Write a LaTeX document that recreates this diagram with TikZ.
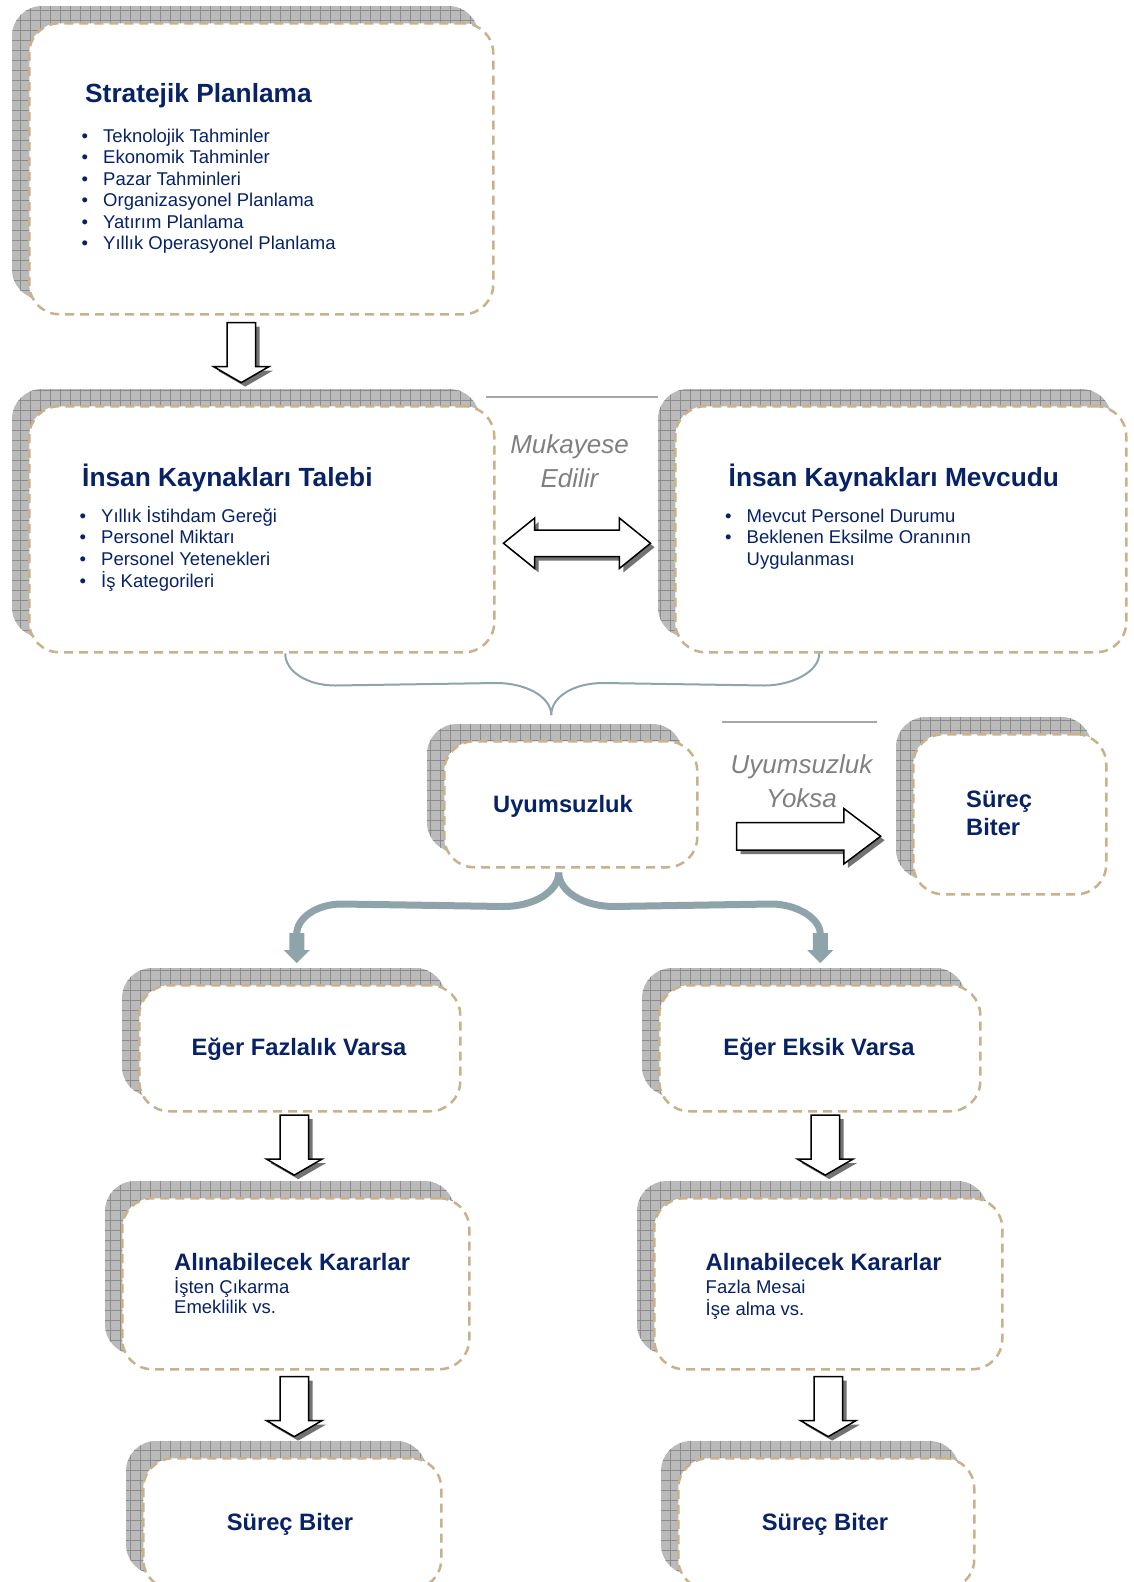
\documentclass[tikz,border=0pt]{standalone}
\usepackage{fontspec}
\setmainfont{Liberation Sans}
\usetikzlibrary{shapes.arrows,shadows,backgrounds}
\definecolor{lacivert}{RGB}{8,34,102}
\definecolor{kum}{RGB}{200,178,138}
\definecolor{grimsi}{RGB}{128,128,128}
\definecolor{mavigri}{RGB}{143,164,170}
\definecolor{golgegri}{RGB}{186,186,186}
\definecolor{izgaragri}{RGB}{140,140,140}
\newcommand{\madde}{\makebox[21.5pt][l]{\textbullet}}
\tikzset{
    kutu/.style = {draw=kum, fill=white, line width=2.5pt, dash pattern=on 9pt off 6pt, rounded corners=30pt, inner sep=0pt, anchor=north west},
    golge/.style = {fill=golgegri, rounded corners=30pt, path picture={\draw[izgaragri, line width=0.7pt] (path picture bounding box.south west) grid[step=10pt] (path picture bounding box.north east);}},
    baslik/.style = {text=lacivert, inner sep=0pt, anchor=base west, font=\fontsize{26.3}{30}\selectfont\bfseries},
    kucukbaslik/.style = {text=lacivert, inner sep=0pt, anchor=base, font=\fontsize{23.7}{28}\selectfont\bfseries},
    liste/.style = {text=lacivert, inner sep=0pt, anchor=base west, font=\fontsize{18.5}{21.5}\selectfont},
    aciklama/.style = {text=grimsi, inner sep=0pt, anchor=base, font=\fontsize{26}{34.5}\selectfont\itshape},
    ayrac/.style = {draw=black!35, line width=1.5pt},
    blok/.style = {draw=black, line width=1.5pt, fill=white, general shadow={fill=black!55, shadow xshift=4pt, shadow yshift=-4pt}},
    asagi/.style = {blok, single arrow, shape border rotate=270, inner sep=13.5pt, minimum height=60pt, single arrow head extend=13.5pt, single arrow tip angle=120},
    kume/.style = {draw=mavigri, line width=2pt},
    akis/.style = {draw=mavigri, line width=7pt},
}

\begin{document}
\begin{tikzpicture}[x=1pt, y=-1pt]
\useasboundingbox (0,0) rectangle (1134,1582);

% kutular
\node[kutu, minimum width=464pt, minimum height=291pt] (strat) at (28,22) {};
\node[baslik] (strat-b) at ([shift={(57,80)}]strat.north west) {Stratejik Planlama};
\node[liste] (strat-l) at ([shift={(53.5,120)}]strat.north west) {\begin{tabular}[t]{@{}l@{}}
    \madde Teknolojik Tahminler\\
    \madde Ekonomik Tahminler\\
    \madde Pazar Tahminleri\\
    \madde Organizasyonel Planlama\\
    \madde Yatırım Planlama\\
    \madde Yıllık Operasyonel Planlama
\end{tabular}};

\node[kutu, minimum width=465pt, minimum height=246pt] (talep) at (28,405) {};
\node[baslik] (talep-b) at ([shift={(54,81)}]talep.north west) {İnsan Kaynakları Talebi};
\node[liste] (talep-l) at ([shift={(51.5,117)}]talep.north west) {\begin{tabular}[t]{@{}l@{}}
    \madde Yıllık İstihdam Gereği\\
    \madde Personel Miktarı\\
    \madde Personel Yetenekleri\\
    \madde İş Kategorileri
\end{tabular}};

\node[kutu, minimum width=451pt, minimum height=246pt] (mevcut) at (674,405) {};
\node[baslik] (mevcut-b) at ([shift={(54.5,81)}]mevcut.north west) {İnsan Kaynakları Mevcudu};
\node[liste] (mevcut-l) at ([shift={(51,117)}]mevcut.north west) {\begin{tabular}[t]{@{}l@{}}
    \madde Mevcut Personel Durumu\\
    \madde Beklenen Eksilme Oranının\\
    \makebox[21.5pt]{}Uygulanması
\end{tabular}};

\node[kutu, minimum width=253pt, minimum height=126pt] (uyum) at (443,740) {};
\node[kucukbaslik] (uyum-b) at ([shift={(120,72)}]uyum.north west) {Uyumsuzluk};

\node[kutu, minimum width=193pt, minimum height=160pt] (bitis) at (912,733) {};
\node[kucukbaslik, anchor=base west] (bitis-b) at ([shift={(54,74)}]bitis.north west) {\begin{tabular}[t]{@{}l@{}}Süreç\\Biter\end{tabular}};

\node[kutu, minimum width=321pt, minimum height=126pt] (fazla) at (138,984) {};
\node[kucukbaslik] (fazla-b) at ([shift={(161,71)}]fazla.north west) {Eğer Fazlalık Varsa};

\node[kutu, minimum width=321pt, minimum height=126pt] (eksik) at (658,984) {};
\node[kucukbaslik] (eksik-b) at ([shift={(161,71)}]eksik.north west) {Eğer Eksik Varsa};

\node[kutu, minimum width=347pt, minimum height=171pt] (karar1) at (121,1197) {};
\node[kucukbaslik, anchor=base west] (karar1-b) at ([shift={(53,73)}]karar1.north west) {Alınabilecek Kararlar};
\node[liste, font=\fontsize{18.5}{20}\selectfont] (karar1-l) at ([shift={(53,96)}]karar1.north west) {\begin{tabular}[t]{@{}l@{}}İşten Çıkarma\\Emeklilik vs.\end{tabular}};

\node[kutu, minimum width=348pt, minimum height=171pt] (karar2) at (653,1197) {};
\node[kucukbaslik, anchor=base west] (karar2-b) at ([shift={(52.5,73)}]karar2.north west) {Alınabilecek Kararlar};
\node[liste, font=\fontsize{18.5}{20}\selectfont] (karar2-l) at ([shift={(52.5,96)}]karar2.north west) {\begin{tabular}[t]{@{}l@{}}Fazla Mesai\\İşe alma vs.\end{tabular}};

\node[kutu, minimum width=298pt, minimum height=131pt] (son1) at (142,1457) {};
\node[kucukbaslik] (son1-b) at ([shift={(148,73)}]son1.north west) {Süreç Biter};

\node[kutu, minimum width=296pt, minimum height=131pt] (son2) at (677,1457) {};
\node[kucukbaslik] (son2-b) at ([shift={(148,73)}]son2.north west) {Süreç Biter};

% golgeler
\begin{pgfonlayer}{background}
\foreach \k in {strat,talep,mevcut,uyum,bitis,fazla,eksik,karar1,karar2,son1,son2}
    \fill[golge] ([shift={(-16,-16)}]\k.south west) rectangle ([shift={(-16,-16)}]\k.north east);
\end{pgfonlayer}

% aciklamalar
\draw[ayrac] ([shift={(-10,-8)}]talep.north east) -- ([shift={(-16,-8)}]mevcut.north west);
\node[aciklama] (mukayese) at ([shift={(74,48)}]talep.north east) {\begin{tabular}[t]{@{}c@{}}Mukayese\\Edilir\end{tabular}};
\draw[ayrac] ([shift={(23,-18)}]uyum.north east) -- ([shift={(-35,-11)}]bitis.north west);
\node[aciklama] (yoksa) at ([shift={(103,33)}]uyum.north east) {\begin{tabular}[t]{@{}c@{}}Uyumsuzluk\\Yoksa\end{tabular}};

% blok oklar
\node[asagi] (o1) at ([shift={(-20,33)}]strat.south) {};
\node[blok, double arrow, inner sep=12.5pt, minimum height=147pt, double arrow head extend=12pt, double arrow tip angle=78] (o-cift) at ([shift={(81.5,14)}]talep.east) {};
\node[blok, single arrow, inner sep=13pt, minimum height=144pt, single arrow head extend=14pt, single arrow tip angle=74] (o-sag) at ([shift={(101,32)}]uyum.east) {};
\node[asagi] (o2) at ([shift={(-5.5,28.5)}]fazla.south) {};
\node[asagi] (o3) at ([shift={(5.5,28.5)}]eksik.south) {};
\node[asagi] (o4) at ([shift={(-1.5,32)}]karar1.south) {};
\node[asagi] (o5) at ([shift={(0,32)}]karar2.south) {};

% kume parantezi
\coordinate (uc) at ([shift={(-19.5,-25)}]uyum.north);
\draw[kume] ([xshift=23.5]talep.south) .. controls +(0,18) and +(-28,0) .. ++(50,32) -- ([shift={(-55,-32)}]uc) .. controls +(30,0) and +(0,-18) .. (uc);
\draw[kume] ([xshift=-81.5]mevcut.south) .. controls +(0,18) and +(28,0) .. ++(-55,32) -- ([shift={(52,-32)}]uc) .. controls +(-30,0) and +(0,-18) .. (uc);

% ayrilan oklar
\coordinate (cikis) at ([shift={(-12,4)}]uyum.south);
\coordinate (uc1) at ([shift={(-3,-21)}]fazla.north);
\coordinate (uc2) at ([shift={(0.5,-21)}]eksik.north);
\draw[akis] (cikis) .. controls +(0,19) and +(30,0) .. ++(-55,34) -- ([shift={(45,-59)}]uc1) .. controls +(-25,0) and +(0,-16) .. ([shift={(0,-29)}]uc1);
\draw[akis] (cikis) .. controls +(0,19) and +(-30,0) .. ++(55,34) -- ([shift={(-49,-59)}]uc2) .. controls +(25,0) and +(0,-16) .. ([shift={(0,-29)}]uc2);
\fill[mavigri] (uc1) -- ++(-13,-13) -- ++(5.5,0) -- ++(0,-17) -- ++(15,0) -- ++(0,17) -- ++(5.5,0) -- cycle;
\fill[mavigri] (uc2) -- ++(-13,-13) -- ++(5.5,0) -- ++(0,-17) -- ++(15,0) -- ++(0,17) -- ++(5.5,0) -- cycle;
\end{tikzpicture}
\end{document}
